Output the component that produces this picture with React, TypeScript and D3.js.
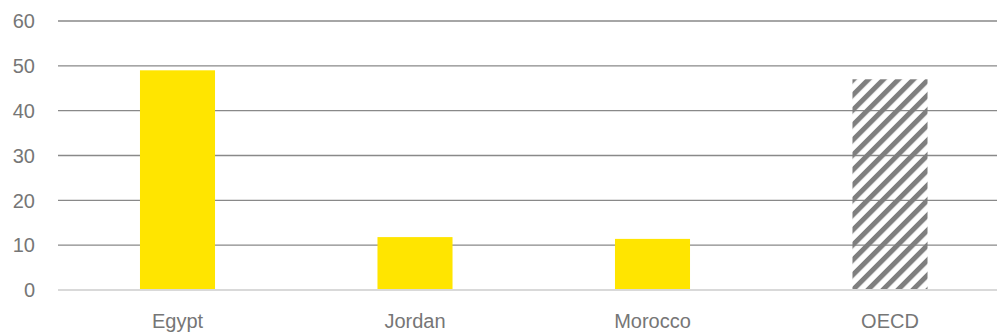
import React from "react";
import * as d3 from "d3";

const categories = ["Egypt", "Jordan", "Morocco", "OECD"];
const values = [49, 11.8, 11.4, 47];
const hatched = [false, false, false, true];
const yTicks = [0, 10, 20, 30, 40, 50, 60];

const W = 997;
const H = 333;

export default function App() {
  const x = d3.scaleBand<string>().domain(categories).range([58.75, 1008.75]).padding(0);
  const y = d3.scaleLinear().domain([0, 60]).range([290, 21]);
  const bw = x.bandwidth() * 0.316;
  const font = "'Liberation Sans', Arial, sans-serif";
  return (
    <svg width={W} height={H} style={{ position: "absolute", left: 0, top: 0, background: "#fff" }}>
      <defs>
        <pattern id="hatch" patternUnits="userSpaceOnUse" width={10.6} height={10.6} patternTransform="rotate(45)">
          <rect x={0} y={0} width={5} height={10.6} fill="#7f7f7f" />
        </pattern>
      </defs>
      {yTicks.map((t) => (
        <g key={t}>
          {t !== 0 && (
            <line x1={58} x2={W} y1={y(t)} y2={y(t)} stroke="#898989" strokeWidth={1.4} />
          )}
          <text x={35} y={y(t)} dy="0.36em" textAnchor="end" fontFamily={font} fontSize={20} fill="#767676">
            {t}
          </text>
        </g>
      ))}
      {categories.map((c, i) => {
        const cx = (x(c) as number) + x.bandwidth() / 2;
        return (
          <g key={c}>
            <rect
              x={cx - bw / 2}
              y={y(values[i])}
              width={bw}
              height={y(0) - y(values[i])}
              fill={hatched[i] ? "url(#hatch)" : "#ffe500"}
            />
            <text x={cx} y={328} textAnchor="middle" fontFamily={font} fontSize={20} fill="#767676">
              {c}
            </text>
          </g>
        );
      })}
      <line x1={58} x2={W} y1={y(0)} y2={y(0)} stroke="#d9d9d9" strokeWidth={2} />
    </svg>
  );
}
